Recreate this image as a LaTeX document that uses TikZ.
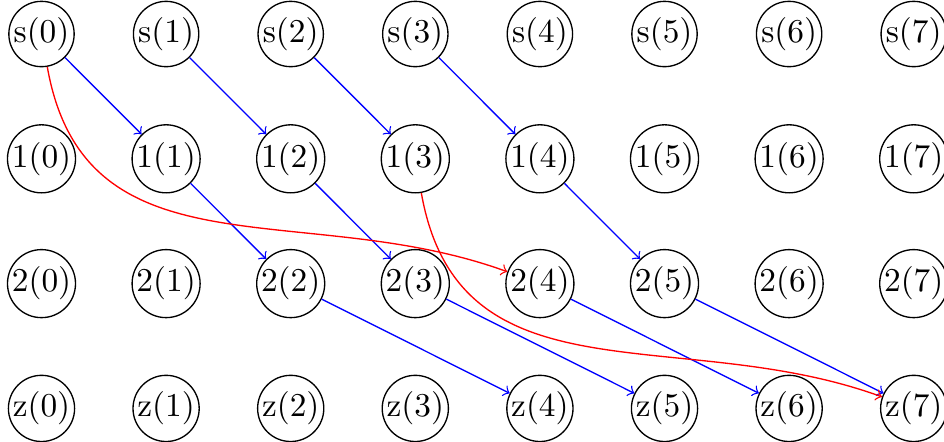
\documentclass[tikz,border=0pt]{standalone}
\begin{document}
\begin{tikzpicture}[x=0.3pt,y=-0.3pt,
  vert/.style={circle,draw,inner sep=0pt,minimum size=19.6pt},
  blueedge/.style={->,blue},
  rededge/.style={->,red,out=-80,in=160,looseness=1.1}]
\useasboundingbox (0,0) rectangle (944,441);
\foreach \i in {0,...,7} {
  \node[vert] (s\i) at ({41.5+124.6*\i},34) {s(\i)};
  \node[vert] (a\i) at ({41.5+124.6*\i},158.8) {1(\i)};
  \node[vert] (b\i) at ({41.5+124.6*\i},283.6) {2(\i)};
  \node[vert] (z\i) at ({41.5+124.6*\i},408.4) {z(\i)};
}
\draw[blueedge] (s0) -- (a1);
\draw[blueedge] (s1) -- (a2);
\draw[blueedge] (s2) -- (a3);
\draw[blueedge] (s3) -- (a4);
\draw[blueedge] (a1) -- (b2);
\draw[blueedge] (a2) -- (b3);
\draw[blueedge] (a4) -- (b5);
\draw[blueedge] (b2) -- (z4);
\draw[blueedge] (b3) -- (z5);
\draw[blueedge] (b4) -- (z6);
\draw[blueedge] (b5) -- (z7);
\draw[rededge] (s0) to (b4);
\draw[rededge] (a3) to (z7);
\end{tikzpicture}
\end{document}
